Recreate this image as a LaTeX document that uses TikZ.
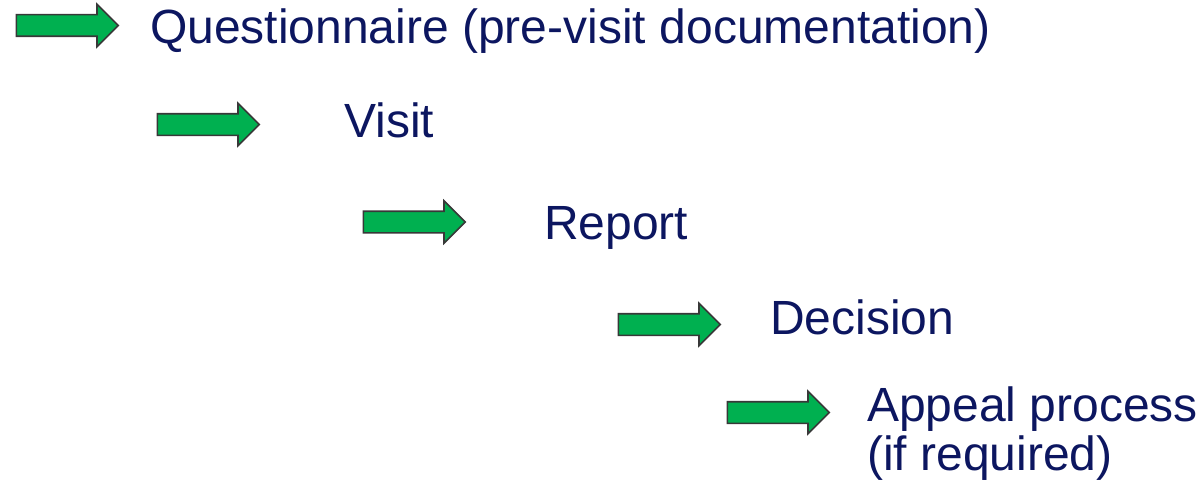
\documentclass[tikz,border=0pt]{standalone}
\usepackage{fontspec}
\setmainfont{Liberation Sans}
\usetikzlibrary{shapes.arrows}
\definecolor{navytext}{HTML}{0C1660}
\definecolor{arrowgreen}{HTML}{00B050}
\definecolor{arrowline}{HTML}{383838}
\begin{document}
\begin{tikzpicture}[x=1pt,y=-1pt,
    greenarrow/.style={single arrow,draw=arrowline,fill=arrowgreen,line width=1.6pt,
      minimum height=102pt,minimum width=41pt,single arrow head extend=10.5pt,
      single arrow head indent=0pt,inner xsep=0pt,inner ysep=10pt,anchor=tail},
    steptext/.style={anchor=base west,inner sep=0pt,text=navytext,align=left,
      font=\fontsize{48}{49}\selectfont}]
    \useasboundingbox (0,0) rectangle (1202,487);
    \node[greenarrow] (arrowq) at (15.5,25.5) {};
    \node[steptext] (questionnaire) at (150,44) {Questionnaire (pre-visit documentation)};
    \node[greenarrow] (arrowv) at (156.5,124.5) {};
    \node[steptext] (visit) at (344,137) {Visit};
    \node[greenarrow] (arrowr) at (362.5,222) {};
    \node[steptext] (report) at (544,239) {Report};
    \node[greenarrow] (arrowd) at (617.5,324.5) {};
    \node[steptext] (decision) at (770,334) {Decision};
    \node[greenarrow] (arrowa) at (726.5,412.5) {};
    % base of a two-line node is its last line
    \node[steptext] (appeal) at (867,470.5) {Appeal process\\(if required)};
  \end{tikzpicture}
\end{document}
